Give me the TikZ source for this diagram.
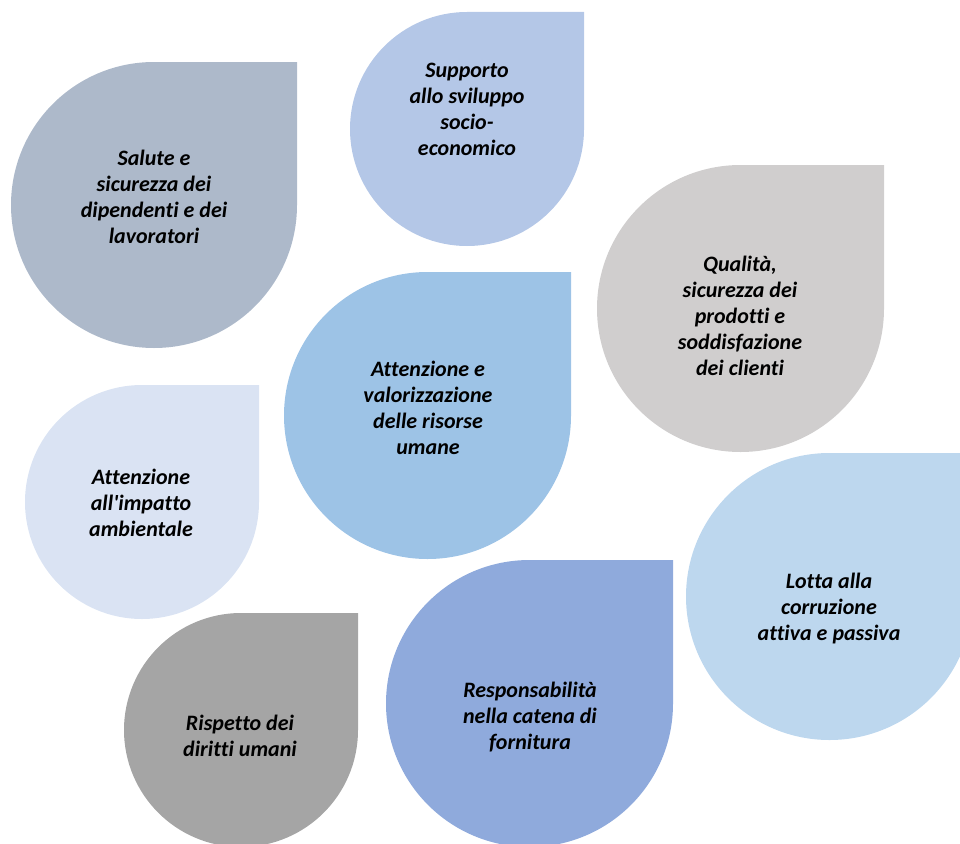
\documentclass[tikz,border=0pt]{standalone}
\usepackage{fontspec}
\setmainfont{Carlito}[Ligatures={TeX,NoCommon}]

\definecolor{salute}{HTML}{ADB9CA}
\definecolor{supporto}{HTML}{B4C7E7}
\definecolor{qualita}{HTML}{D0CECE}
\definecolor{risorse}{HTML}{9DC3E6}
\definecolor{ambiente}{HTML}{DAE3F3}
\definecolor{corruzione}{HTML}{BDD7EE}
\definecolor{diritti}{HTML}{A5A5A5}
\definecolor{fornitura}{HTML}{8FAADC}

\tikzset{
  droptext/.style={align=center, inner sep=0pt,
    font=\bfseries\itshape\fontsize{22}{26}\selectfont}
}

% drop with square top-right corner: colour, left, top, size
\newcommand{\waterdrop}[4]{%
  \fill[#1] ({#2+#4},#3) -- ({#2+#4},{#3+#4/2})
    arc[start angle=0, end angle=270, radius={#4/2}] -- cycle;
}

\begin{document}
\begin{tikzpicture}[x=1pt, y=-1pt]

\useasboundingbox (0,0) rectangle (960,843);
\clip (0,0) rectangle (960,843);

\waterdrop{salute}{11}{62}{286}
\waterdrop{supporto}{350}{12}{234}
\waterdrop{qualita}{597}{165}{287}
\waterdrop{risorse}{284}{272}{287}
\waterdrop{ambiente}{25}{385}{234}
\waterdrop{corruzione}{686}{453}{287}
\waterdrop{diritti}{124}{613}{234}
\waterdrop{fornitura}{386}{560}{287}

\node[droptext] (salute) at (154,197) {Salute e\\sicurezza dei\\dipendenti e dei\\lavoratori};
\node[droptext] (supporto) at (467,109) {Supporto\\allo sviluppo\\socio-\\economico};
\node[droptext] (qualita) at (740,316) {Qualità,\\sicurezza dei\\prodotti e\\soddisfazione\\dei clienti};
\node[droptext] (risorse) at (428,408) {Attenzione e\\valorizzazione\\delle risorse\\umane};
\node[droptext] (ambiente) at (141,503) {Attenzione\\all\textquotesingle impatto\\ambientale};
\node[droptext] (corruzione) at (829,609) {Lotta alla\\corruzione\\attiva e passiva};
\node[droptext] (diritti) at (240,736) {Rispetto dei\\diritti umani};
\node[droptext] (fornitura) at (530,717) {Responsabilità\\nella catena di\\fornitura};

\end{tikzpicture}
\end{document}
